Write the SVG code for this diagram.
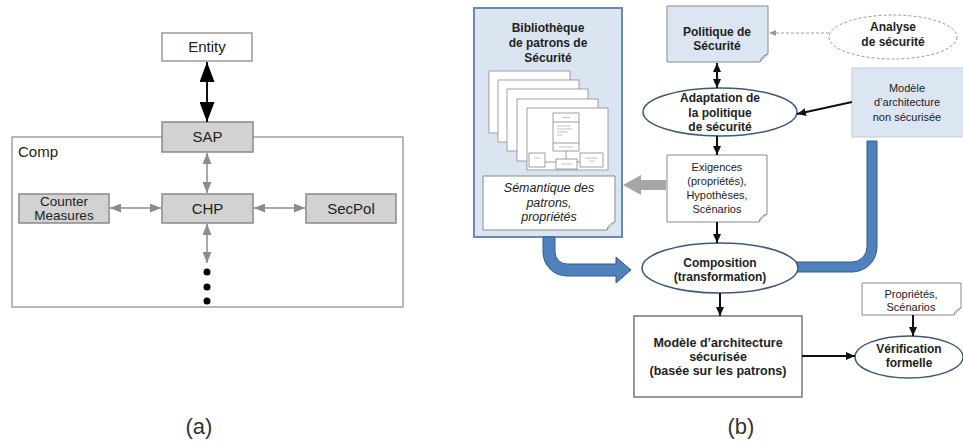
<svg xmlns="http://www.w3.org/2000/svg" width="963" height="444" viewBox="0 0 963 444">
  <style>
    text { font-family: "Liberation Sans", Arial, sans-serif; fill: #222; text-anchor: middle; }
    .lbl15 { font-size: 15px; }
    .lbl13 { font-size: 13.5px; }
    .bold { font-size: 12px; font-weight: bold; }
    .bold12 { font-size: 12.5px; font-weight: bold; }
    .reg { font-size: 11px; }
    .ital { font-size: 12.5px; font-style: italic; }
    .cap { font-size: 22px; fill: #333; }
    .graybox { fill: #d2d2d2; stroke: #8a8a8a; stroke-width: 1.5; }
    .whitebox { fill: #fff; stroke: #9a9a9a; stroke-width: 1.5; }
    .frame { fill: none; stroke: #a0a0a0; stroke-width: 1.5; }
    .garrow { stroke: #8c8c8c; stroke-width: 1.5; fill: none; marker-start: url(#grayHead); marker-end: url(#grayHead); }
    .barrow { stroke: #111; stroke-width: 2; fill: none; marker-end: url(#blackHead); }
    .doc { stroke: #8a8a8a; stroke-width: 1; }
    .bluefill { fill: #dce6f2; }
    .ell { fill: #fff; stroke: #3f5878; stroke-width: 1.5; }
    .page { fill: #fff; stroke: #8a8a8a; stroke-width: 0.8; }
    .tiny { fill: #fff; stroke: #777; stroke-width: 0.7; }
    .scrib { stroke: #999; stroke-width: 0.6; }
    .band { fill: #4f81bd; stroke: #385d8a; stroke-width: 1; }
  </style>
  <defs>
    <marker id="bigBlack" viewBox="0 0 20 15" refX="20" refY="7.5" markerWidth="20" markerHeight="15" markerUnits="userSpaceOnUse" orient="auto-start-reverse">
      <path d="M0,0 L20,7.5 L0,15 z" fill="#000"/>
    </marker>
    <marker id="grayHead" viewBox="0 0 11 9" refX="11" refY="4.5" markerWidth="11" markerHeight="9" markerUnits="userSpaceOnUse" orient="auto-start-reverse">
      <path d="M0,0 L11,4.5 L0,9 z" fill="#8c8c8c"/>
    </marker>
    <marker id="blackHead" viewBox="0 0 9 8" refX="9" refY="4" markerWidth="9" markerHeight="8" markerUnits="userSpaceOnUse" orient="auto-start-reverse">
      <path d="M0,0 L9,4 L0,8 z" fill="#111"/>
    </marker>
    <marker id="dashHead" viewBox="0 0 7 6" refX="7" refY="3" markerWidth="7" markerHeight="6" markerUnits="userSpaceOnUse" orient="auto">
      <path d="M0,0 L7,3 L0,6 z" fill="#999"/>
    </marker>
  </defs>

  <rect width="963" height="444" fill="#fff"/>

  <!-- ===== (a) component structure ===== -->
  <g id="comp">
    <rect class="frame" x="12" y="137" width="391" height="170"/>
    <text class="lbl15" x="18" y="157" style="text-anchor:start">Comp</text>
  </g>
  <g id="entity">
    <rect class="whitebox" x="162" y="33" width="90" height="28"/>
    <text class="lbl15" x="207" y="52">Entity</text>
  </g>
  <g id="sap">
    <rect class="graybox" x="162" y="122" width="91" height="30"/>
    <text class="lbl15" x="207.5" y="142">SAP</text>
  </g>
  <g id="chp">
    <rect class="graybox" x="162" y="194" width="91" height="29"/>
    <text class="lbl15" x="207.5" y="214">CHP</text>
  </g>
  <g id="countermeasures">
    <rect class="graybox" x="19" y="194" width="90" height="29"/>
    <text class="lbl13" x="64" y="206">Counter</text>
    <text class="lbl13" x="64" y="220">Measures</text>
  </g>
  <g id="secpol">
    <rect class="graybox" x="306" y="194" width="90" height="29"/>
    <text class="lbl15" x="351" y="214">SecPol</text>
  </g>
  <g id="more">
    <circle cx="207" cy="272" r="3.5" fill="#000"/>
    <circle cx="207" cy="287" r="3.5" fill="#000"/>
    <circle cx="207" cy="301" r="3.5" fill="#000"/>
  </g>
  <g id="connectors-a">
    <line x1="207" y1="62" x2="207" y2="122" stroke="#111" stroke-width="2" marker-start="url(#bigBlack)" marker-end="url(#bigBlack)"/>
    <line class="garrow" x1="207" y1="153" x2="207" y2="193"/>
    <line class="garrow" x1="110" y1="208" x2="161" y2="208"/>
    <line class="garrow" x1="254" y1="208" x2="305" y2="208"/>
    <line class="garrow" x1="207" y1="224" x2="207" y2="263"/>
  </g>
  <text class="cap" x="199" y="434">(a)</text>

  <!-- ===== (b) security pattern process ===== -->
  <!-- thick flow bands -->
  <g id="flow-bands">
    <path class="band" d="M867,141 H877 V247 A25,25 0 0 1 852,272 H794 V262 H852 A15,15 0 0 0 867,247 Z"/>
  </g>

  <g id="library">
    <rect x="474" y="8" width="148" height="229" fill="#dbe5f1" stroke="#6c8ab0" stroke-width="2"/>
    <text class="bold" x="548" y="32">Bibliothèque</text>
    <text class="bold" x="548" y="47">de patrons de</text>
    <text class="bold" x="548" y="62">Sécurité</text>
    <rect class="page" x="489" y="71" width="81" height="62"/>
    <rect class="page" x="498" y="80" width="81" height="62"/>
    <rect class="page" x="507" y="89" width="81" height="62"/>
    <rect class="page" x="517" y="99" width="81" height="62"/>
    <rect class="page" x="527" y="108" width="81" height="62"/>
    <!-- miniature class diagram on the front page -->
    <rect class="tiny" x="553" y="113" width="26" height="38"/>
    <line class="tiny" x1="553" y1="122" x2="579" y2="122"/>
    <line class="tiny" x1="553" y1="143" x2="579" y2="143"/>
    <line class="scrib" x1="562" y1="117.5" x2="570" y2="117.5"/>
    <line class="scrib" x1="557" y1="126" x2="570" y2="126"/>
    <line class="scrib" x1="557" y1="129" x2="572" y2="129"/>
    <line class="scrib" x1="557" y1="132" x2="568" y2="132"/>
    <line class="scrib" x1="557" y1="135" x2="562" y2="135"/>
    <line class="scrib" x1="559" y1="147" x2="573" y2="147"/>
    <line class="tiny" x1="566" y1="151" x2="566" y2="159"/>
    <line class="tiny" x1="545" y1="162" x2="556" y2="162"/>
    <line class="tiny" x1="577" y1="162" x2="580" y2="162"/>
    <rect class="tiny" x="529" y="153" width="16" height="14"/>
    <line class="scrib" x1="534" y1="158" x2="540" y2="158"/>
    <rect class="tiny" x="556" y="159" width="21" height="10"/>
    <line class="scrib" x1="561" y1="164" x2="572" y2="164"/>
    <rect class="tiny" x="580" y="153" width="23" height="14"/>
    <line class="scrib" x1="585" y1="158" x2="598" y2="158"/>
    <line class="scrib" x1="589" y1="161" x2="595" y2="161"/>
  </g>

  <g id="semantique">
    <path class="doc" fill="#fff" d="M483,176 H615 V222 L607,230 H483 Z"/>
    <path class="doc" fill="#eee" d="M607,230 Q608,224 615,222"/>
    <text class="ital" x="549" y="192">Sémantique des</text>
    <text class="ital" x="549" y="207">patrons,</text>
    <text class="ital" x="549" y="221">propriétés</text>
  </g>

  <g id="left-band">
    <path class="band" d="M543,237 V252 A24,24 0 0 0 567,276 H616 V283 L631,270 L616,257 V264 H567 A12,12 0 0 1 555,252 V237 Z"/>
  </g>

  <g id="politique">
    <path class="doc bluefill" d="M667,6 H768 V54 L760,62 H667 Z"/>
    <path class="doc" fill="#c8d4e4" d="M760,62 Q761,56 768,54"/>
    <text class="bold" x="717" y="36">Politique  de</text>
    <text class="bold" x="717" y="50">Sécurité</text>
  </g>

  <g id="analyse">
    <ellipse cx="893" cy="37" rx="64" ry="22" fill="#fff" stroke="#9a9a9a" stroke-width="1" stroke-dasharray="3 2"/>
    <text class="bold" x="893" y="31">Analyse</text>
    <text class="bold" x="893" y="46">de sécurité</text>
  </g>

  <g id="adaptation">
    <ellipse class="ell" cx="720" cy="112" rx="77" ry="24"/>
    <text class="bold" x="720" y="102">Adaptation de</text>
    <text class="bold" x="720" y="117">la politique</text>
    <text class="bold" x="720" y="131">de sécurité</text>
  </g>

  <g id="modele-non-securise">
    <rect x="852" y="68" width="113" height="69" fill="#dce6f2" stroke="#c3cddb" stroke-width="1"/>
    <text class="reg" x="907" y="92">Modèle</text>
    <text class="reg" x="907" y="106">d’architecture</text>
    <text class="reg" x="907" y="121">non sécurisée</text>
  </g>

  <g id="exigences">
    <path class="doc" fill="#fff" d="M667,155 H767 V214 L759,222 H667 Z"/>
    <path class="doc" fill="#eee" d="M759,222 Q760,216 767,214"/>
    <text class="reg" x="717" y="171">Exigences</text>
    <text class="reg" x="717" y="185">(propriétés),</text>
    <text class="reg" x="717" y="199">Hypothèses,</text>
    <text class="reg" x="717" y="213">Scénarios</text>
  </g>

  <g id="composition">
    <ellipse class="ell" cx="720" cy="268" rx="78" ry="25"/>
    <text class="bold" x="720" y="267">Composition</text>
    <text class="bold" x="720" y="281">(transformation)</text>
  </g>

  <g id="modele-securise">
    <rect x="634" y="316" width="168" height="81" fill="#fff" stroke="#777" stroke-width="1.5"/>
    <text class="bold12" x="718" y="347">Modèle d’architecture</text>
    <text class="bold12" x="718" y="361">sécurisée</text>
    <text class="bold12" x="718" y="375">(basée sur les patrons)</text>
  </g>

  <g id="proprietes">
    <path class="doc" fill="#fff" d="M862,283 H961 V308 L954,315 H862 Z"/>
    <path class="doc" fill="#eee" d="M954,315 Q955,310 961,308"/>
    <text class="reg" x="911" y="298">Propriétés,</text>
    <text class="reg" x="911" y="311">Scénarios</text>
  </g>

  <g id="verification">
    <ellipse class="ell" cx="909" cy="357" rx="54" ry="21"/>
    <text class="bold" x="909" y="353">Vérification</text>
    <text class="bold" x="909" y="367">formelle</text>
  </g>

  <g id="connectors-b">
    <polygon points="623,185 641,175 641,180 666,180 666,190 641,190 641,195" fill="#a6a6a6"/>
    <line x1="829" y1="33" x2="769" y2="33" stroke="#999" stroke-width="1" stroke-dasharray="3 2" marker-end="url(#dashHead)"/>
    <line x1="717" y1="63" x2="717" y2="88" stroke="#111" stroke-width="2" marker-start="url(#blackHead)" marker-end="url(#blackHead)"/>
    <line class="barrow" x1="852" y1="102" x2="797" y2="114"/>
    <line class="barrow" x1="717" y1="136" x2="717" y2="155"/>
    <line class="barrow" x1="717" y1="222" x2="717" y2="243"/>
    <line class="barrow" x1="720" y1="293" x2="720" y2="316"/>
    <line class="barrow" x1="802" y1="356" x2="855" y2="356"/>
    <line class="barrow" x1="913" y1="315" x2="913" y2="336"/>
  </g>
  <text class="cap" x="741" y="434">(b)</text>
</svg>
